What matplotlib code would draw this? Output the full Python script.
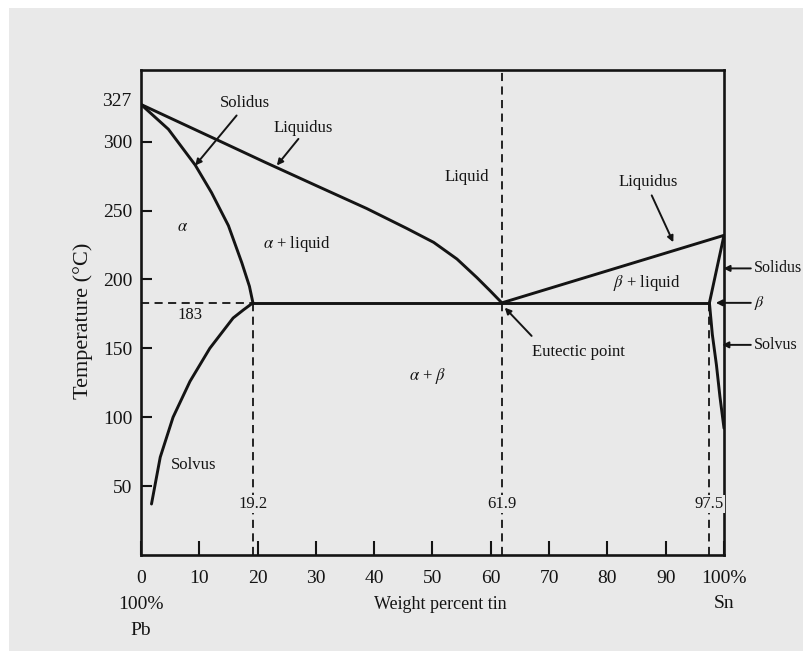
import matplotlib.pyplot as plt
from matplotlib.patches import Rectangle

plt.rcParams["font.family"] = ["Liberation Serif", "DejaVu Serif"]
plt.rcParams["mathtext.fontset"] = "stix"

BG = "#e9e9e9"
INK = "#141414"

# Pb-Sn phase boundaries: composition in wt% Sn, temperature in deg C
liq_left_x = [0, 12.7, 21.3, 30.1, 38.7, 45.6, 50.2, 54.2, 57.6, 59.9, 61.9]
liq_left_t = [327, 302, 285, 268, 251.5, 237, 226.9, 214.8, 201.4, 191.7, 183]
sol_left_x = [0, 4.7, 9.3, 12.1, 15.0, 17.3, 18.6, 19.2]
sol_left_t = [327, 309, 283, 263, 239, 212, 195, 183]
solv_left_x = [19.2, 17.6, 15.8, 11.8, 8.4, 5.5, 3.3, 1.8]
solv_left_t = [183, 178, 172, 150, 126, 100, 71, 37]
liq_right_x = [61.9, 100]
liq_right_t = [183, 232]
sol_right_x = [100, 97.5]
sol_right_t = [232, 183]
solv_right_x = [97.5, 98.0, 98.7, 99.3, 100]
solv_right_t = [183, 160, 138, 115, 92]

eutectic_t = 183
eutectic_x = [19.2, 61.9, 97.5]   # alpha limit, eutectic, beta limit

x_ticks = [0, 10, 20, 30, 40, 50, 60, 70, 80, 90, 100]
x_labels = ["0", "10", "20", "30", "40", "50", "60", "70", "80", "90", "100%"]
y_ticks = [50, 100, 150, 200, 250, 300]
t_melt_pb = 327

fig = plt.figure(figsize=(8.04, 6.51), dpi=100, facecolor=BG)
# white strip along the top and left edge
fig.patches.append(Rectangle((0, 1 - 8 / 651), 1, 8 / 651, transform=fig.transFigure,
                             facecolor="white", edgecolor="none", zorder=0))
fig.patches.append(Rectangle((0, 0), 9 / 804, 1, transform=fig.transFigure,
                             facecolor="white", edgecolor="none", zorder=0))

ax = fig.add_axes([141 / 804, 96 / 651, 583 / 804, 485 / 651])
ax.set_facecolor(BG)
ax.set_xlim(0, 100)
ax.set_ylim(0, 352)

lw = 2.1
dash = (0, (4.5, 3))
curve = dict(color=INK, lw=lw, solid_joinstyle="round", solid_capstyle="round")

# phase boundaries
ax.plot(liq_left_x, liq_left_t, **curve)
ax.plot(sol_left_x, sol_left_t, **curve)
ax.plot(solv_left_x, solv_left_t, **curve)
ax.plot(liq_right_x, liq_right_t, **curve)
ax.plot(sol_right_x, sol_right_t, **curve)
ax.plot(solv_right_x, solv_right_t, **curve)
ax.plot([eutectic_x[0], eutectic_x[2]], [eutectic_t, eutectic_t], **curve)

# dashed guides
ax.plot([0, eutectic_x[0]], [eutectic_t, eutectic_t], color=INK, lw=1.3, ls=dash)
ax.plot([eutectic_x[0], eutectic_x[0]], [0, eutectic_t], color=INK, lw=1.3, ls=dash)
ax.plot([eutectic_x[1], eutectic_x[1]], [0, 352], color=INK, lw=1.3, ls=dash)
ax.plot([eutectic_x[2], eutectic_x[2]], [0, eutectic_t], color=INK, lw=1.3, ls=dash)

for xv in eutectic_x:
    ax.text(xv, 37, f"{xv}", ha="center", va="center", fontsize=12, color=INK,
            bbox=dict(facecolor=BG, edgecolor="none", pad=1.0))
ax.text(8.4, 174, f"{eutectic_t}", ha="center", va="center", fontsize=12, color=INK)

# region and curve labels
txt = dict(ha="center", va="center", fontsize=12, color=INK)
ax.text(17.8, 328, "Solidus", **txt)
ax.text(27.8, 310, "Liquidus", **txt)
ax.text(55.9, 274, "Liquid", **txt)
ax.text(87.0, 270.5, "Liquidus", **txt)
ax.text(7.2, 238, r"$\alpha$", **txt)
ax.text(26.8, 226, r"$\alpha$ + liquid", **txt)
ax.text(86.7, 197.5, r"$\beta$ + liquid", **txt)
ax.text(75.0, 147, "Eutectic point", **txt)
ax.text(49.2, 130, r"$\alpha$ + $\beta$", **txt)
ax.text(9.1, 65, "Solvus", **txt)

arrow = dict(arrowstyle="-|>", color=INK, lw=1.4, mutation_scale=9, shrinkA=0, shrinkB=0)
ax.annotate("", xy=(9.3, 282.7), xytext=(16.4, 319), arrowprops=arrow)
ax.annotate("", xy=(23.3, 282.7), xytext=(27.0, 302), arrowprops=arrow)
ax.annotate("", xy=(91.3, 227), xytext=(87.6, 261), arrowprops=arrow)
ax.annotate("", xy=(62.4, 179.5), xytext=(67.0, 159), arrowprops=arrow)

# callouts outside the right edge
side = [("Solidus", 99.9, 208), (r"$\beta$", 98.6, 183), ("Solvus", 99.7, 152.5)]
for label, tip_x, tip_t in side:
    ax.annotate("", xy=(tip_x, tip_t), xytext=(104.6, tip_t), arrowprops=arrow,
                annotation_clip=False)
    ax.text(105.1, tip_t, label, ha="left", va="center", fontsize=11.5, color=INK,
            clip_on=False)

# axes styling
for sp in ax.spines.values():
    sp.set_linewidth(1.9)
    sp.set_color(INK)
ax.set_xticks(x_ticks)
ax.set_xticklabels(x_labels)
ax.set_yticks(y_ticks)
ax.tick_params(axis="x", direction="in", length=10, width=1.5, pad=11,
               labelsize=14, colors=INK)
ax.tick_params(axis="y", direction="in", length=8, width=1.5, pad=6,
               labelsize=14, colors=INK)
ax.text(-1.6, t_melt_pb + 2, f"{t_melt_pb}", ha="right", va="center", fontsize=14, color=INK)

xform = ax.get_xaxis_transform()
ax.text(0, -0.103, "100%", transform=xform, ha="center", va="center", fontsize=14, color=INK)
ax.text(0, -0.155, "Pb", transform=xform, ha="center", va="center", fontsize=14, color=INK)
ax.text(100, -0.099, "Sn", transform=xform, ha="center", va="center", fontsize=14, color=INK)
ax.text(51.3, -0.103, "Weight percent tin", transform=xform, ha="center", va="center",
        fontsize=13, color=INK)
fig.text(83 / 804, 1 - 321 / 651, "Temperature (°C)", rotation=90, ha="center",
         va="center", fontsize=16, color=INK)

fig.savefig("out.png", dpi=100, facecolor=BG)
